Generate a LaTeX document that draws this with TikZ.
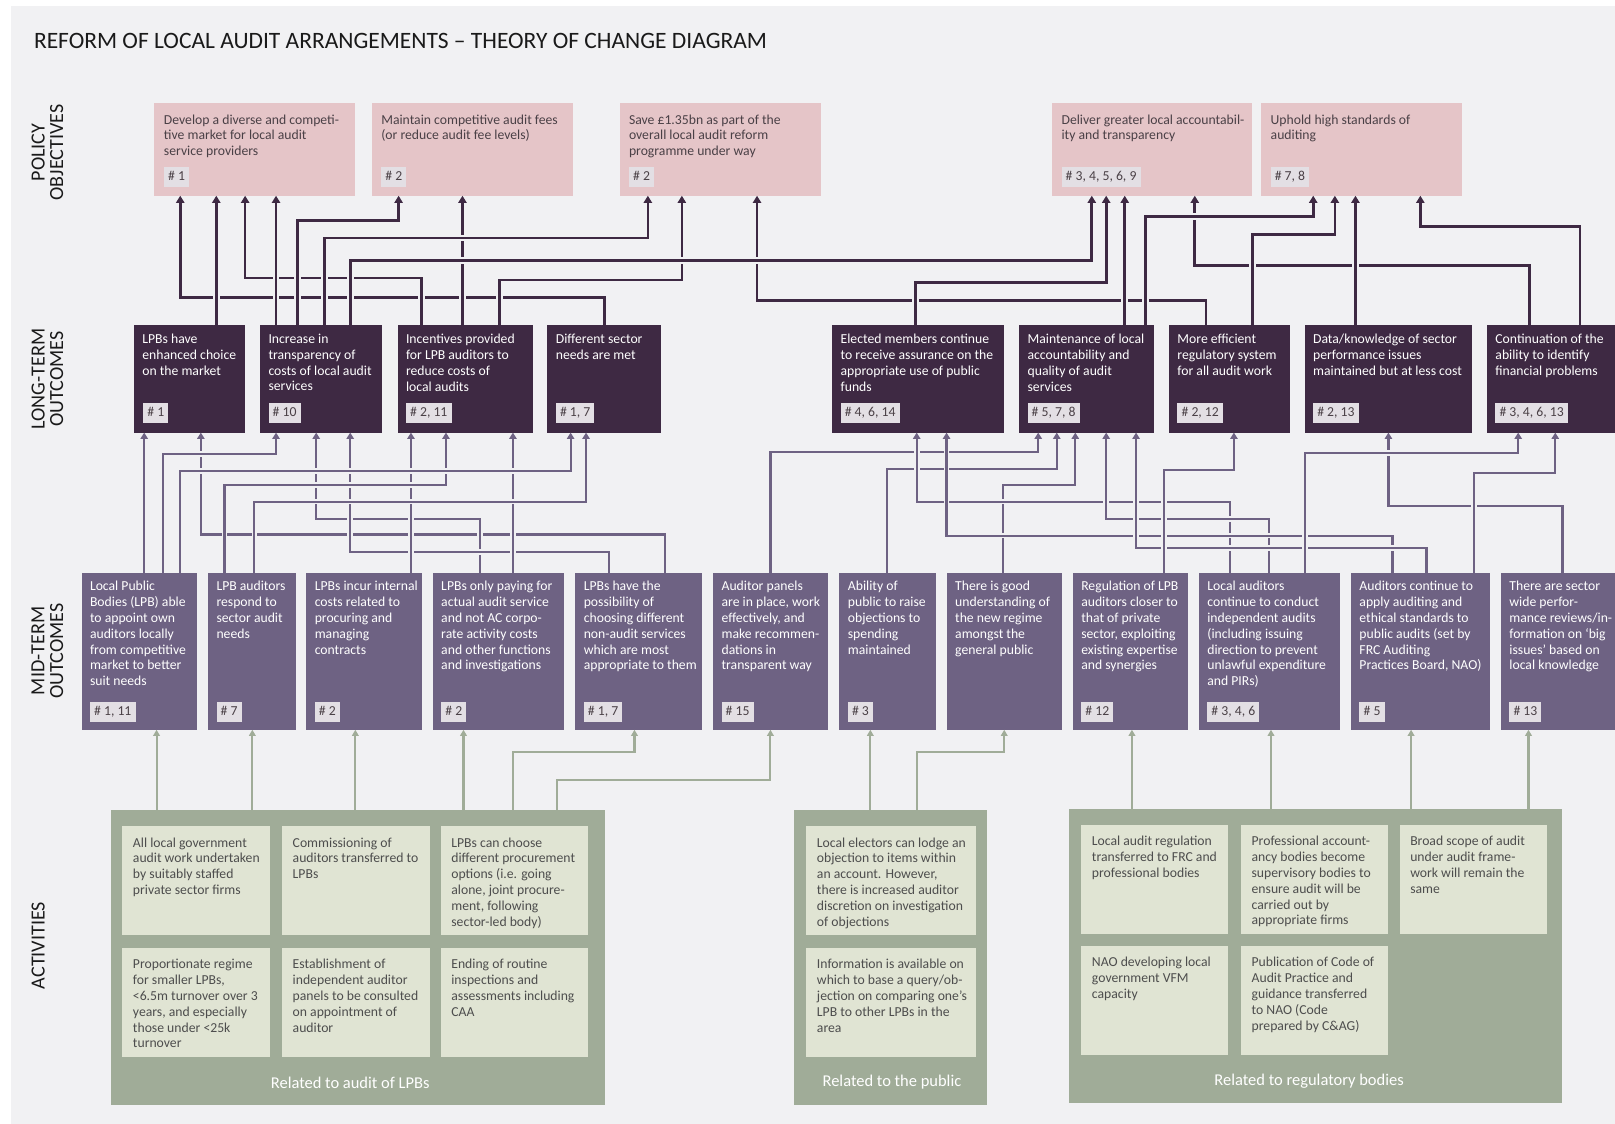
\documentclass[tikz,border=0pt]{standalone}
\usepackage{fontspec}
\setmainfont{Carlito}
\usetikzlibrary{arrows.meta,calc}
\definecolor{bgc}{HTML}{F1F1F3}
\definecolor{pinkc}{HTML}{E5C5C8}
\definecolor{dkc}{HTML}{3E2943}
\definecolor{mdc}{HTML}{6E6283}
\definecolor{grc}{HTML}{A0AC98}
\definecolor{actc}{HTML}{E0E4D3}
\definecolor{tagc}{HTML}{E3DFE4}
\definecolor{txtc}{HTML}{4A4046}
\definecolor{acttxtc}{HTML}{4D4D4D}
\definecolor{titlec}{HTML}{1A1A1A}
\newcommand\bx[7]{%
  \node[#1, anchor=north west, minimum width={(#5-#3)*1pt}, minimum height={(#6-#4)*1pt}] (#2) at (#3,#4) {};
  \node[#1txt, anchor=north west] (#2t) at (#2.north west) {#7};}
\newcommand\tg[4]{%
  \node[tagst, anchor=south west, xshift=#3pt, yshift=#4pt] (#1g) at (#1.south west) {\# #2};}
\begin{document}
\begin{tikzpicture}[x=1pt,y=-1pt,
  every node/.style={font=\fontsize{13.3}{15.4}\selectfont},
  pol/.style={fill=pinkc, draw=none, inner sep=0pt, outer sep=0pt},
  poltxt/.style={text=txtc, align=left, inner sep=0pt, xshift=9pt, yshift=-11pt},
  lt/.style={fill=dkc, inner sep=0pt, outer sep=0pt},
  lttxt/.style={text=white, align=left, inner sep=0pt, xshift=8pt, yshift=-8pt},
  mt/.style={fill=mdc, inner sep=0pt, outer sep=0pt},
  mttxt/.style={text=white, align=left, inner sep=0pt, xshift=8pt, yshift=-8pt},
  act/.style={fill=actc, inner sep=0pt, outer sep=0pt},
  acttxt/.style={text=acttxtc, align=left, inner sep=0pt, xshift=10pt, yshift=-11pt},
  grp/.style={fill=grc, inner sep=0pt, outer sep=0pt},
  grplab/.style={text=white, font=\fontsize{16}{18}\selectfont},
  tagst/.style={fill=tagc, text=txtc, inner xsep=4pt, inner ysep=4.5pt, text height=9pt, text depth=2pt},
  rowlab/.style={rotate=90, align=center, text=titlec, font=\fontsize{19.5}{18}\selectfont},
  dk/.style={draw=dkc, line width=2.6pt, -{Triangle[width=8pt,length=7pt]}, preaction={draw=bgc, line width=6.5pt, -}},
  md/.style={draw=mdc, line width=2.1pt, -{Triangle[width=7pt,length=6pt]}, preaction={draw=bgc, line width=5.5pt, -}},
  gr/.style={draw=grc, line width=2pt, -{Triangle[width=6.5pt,length=6pt]}}
]
\useasboundingbox (0,0) rectangle (1568,1091);
\fill[white] (0,0) rectangle (1568,1091);
\fill[bgc] (10.7,5.8) rectangle (1568,1091);

\node[anchor=base west, text=titlec, font=\fontsize{22.8}{26}\selectfont] (title) at (29.5,47) {REFORM OF LOCAL AUDIT ARRANGEMENTS – THEORY OF CHANGE DIAGRAM};
\node[rowlab] (r1) at (46,148) {POLICY\\OBJECTIVES};
\node[rowlab] (r2) at (46,368) {LONG-TERM\\OUTCOMES};
\node[rowlab] (r3) at (46,632) {MID-TERM\\OUTCOMES};
\node[rowlab] (r4) at (37,918) {ACTIVITIES};

% policy objectives
\bx{pol}{P1}{150}{100}{345}{190}{Develop a diverse and competi-\\tive market for local audit\\service providers}
\tg{P1}{1}{9}{8}
\bx{pol}{P2}{361}{100}{556}{190}{Maintain competitive audit fees\\(or reduce audit fee levels)}
\tg{P2}{2}{9}{8}
\bx{pol}{P3}{601.5}{100}{797}{190}{Save £1.35bn as part of the\\overall local audit reform\\programme under way}
\tg{P3}{2}{9}{8}
\bx{pol}{P4}{1021.5}{100}{1216}{190}{Deliver greater local accountabil-\\ity and transparency}
\tg{P4}{3, 4, 5, 6, 9}{9}{8}
\bx{pol}{P5}{1224.5}{100}{1419.5}{190}{Uphold high standards of\\auditing}
\tg{P5}{7, 8}{9}{8}

% long-term outcomes
\bx{lt}{L1}{130}{316}{238}{420}{LPBs have\\enhanced choice\\on the market}
\tg{L1}{1}{9}{9}
\bx{lt}{L2}{252.5}{316}{371}{420}{Increase in\\transparency of\\costs of local audit\\services}
\tg{L2}{10}{8}{9}
\bx{lt}{L3}{386}{316}{517}{420}{Incentives provided\\for LPB auditors to\\reduce costs of\\local audits}
\tg{L3}{2, 11}{8}{9}
\bx{lt}{L4}{531.5}{316}{641.7}{420}{Different sector\\needs are met}
\tg{L4}{1, 7}{8}{9}
\bx{lt}{L5}{808}{316}{974.4}{420}{Elected members continue\\to receive assurance on the\\appropriate use of public\\funds}
\tg{L5}{4, 6, 14}{8}{9}
\bx{lt}{L6}{989.5}{316}{1120.4}{420}{Maintenance of local\\accountability and\\quality of audit\\services}
\tg{L6}{5, 7, 8}{8}{9}
\bx{lt}{L7}{1135}{316}{1252}{420}{More efficient\\regulatory system\\for all audit work}
\tg{L7}{2, 12}{8}{9}
\bx{lt}{L8}{1266.7}{316}{1429.4}{420}{Data/knowledge of sector\\performance issues\\maintained but at less cost}
\tg{L8}{2, 13}{8}{9}
\bx{lt}{L9}{1443.7}{316}{1568}{420}{Continuation of the\\ability to identify\\financial problems}
\tg{L9}{3, 4, 6, 13}{8}{9}

% mid-term outcomes
\bx{mt}{M1}{79.2}{556}{190.8}{708.5}{Local Public\\Bodies (LPB) able\\to appoint own\\auditors locally\\from competitive\\market to better\\suit needs}
\tg{M1}{1, 11}{8}{7}
\bx{mt}{M2}{202}{556}{287}{708.5}{LPB auditors\\respond to\\sector audit\\needs}
\tg{M2}{7}{8}{7}
\bx{mt}{M3}{297.4}{556}{409.3}{708.5}{LPBs incur internal\\costs related to\\procuring and\\managing\\contracts}
\tg{M3}{2}{8}{7}
\bx{mt}{M4}{420.2}{556}{547.8}{708.5}{LPBs only paying for\\actual audit service\\and not AC corpo-\\rate activity costs\\and other functions\\and investigations}
\tg{M4}{2}{8}{7}
\bx{mt}{M5}{558.6}{556}{681.9}{708.5}{LPBs have the\\possibility of\\choosing different\\non-audit services\\which are most\\appropriate to them}
\tg{M5}{1, 7}{8}{7}
\bx{mt}{M6}{692.4}{556}{804}{708.5}{Auditor panels\\are in place, work\\effectively, and\\make recommen-\\dations in\\transparent way}
\tg{M6}{15}{8}{7}
\bx{mt}{M7}{815}{556}{908.5}{708.5}{Ability of\\public to raise\\objections to\\spending\\maintained}
\tg{M7}{3}{8}{7}
\bx{mt}{M8}{919.2}{556}{1031}{708.5}{There is good\\understanding of\\the new regime\\amongst the\\general public}
\bx{mt}{M9}{1041.6}{556}{1153}{708.5}{Regulation of LPB\\auditors closer to\\that of private\\sector, exploiting\\existing expertise\\and synergies}
\tg{M9}{12}{8}{7}
\bx{mt}{M10}{1164}{556}{1301}{708.5}{Local auditors\\continue to conduct\\independent audits\\(including issuing\\direction to prevent\\unlawful expenditure\\and PIRs)}
\tg{M10}{3, 4, 6}{8}{7}
\bx{mt}{M11}{1311.7}{556}{1447}{708.5}{Auditors continue to\\apply auditing and\\ethical standards to\\public audits (set by\\FRC Auditing\\Practices Board, NAO)}
\tg{M11}{5}{8}{7}
\bx{mt}{M12}{1457.3}{556}{1568}{708.5}{There are sector\\wide perfor-\\mance reviews/in-\\formation on ‘big\\issues’ based on\\local knowledge}
\tg{M12}{13}{8}{7}

% activity groups
\node[grp, anchor=north west, minimum width=479.8pt, minimum height=286.6pt] (G1) at (107.8,786.4) {};
\node[grplab] (G1l) at (340,1051) {Related to audit of LPBs};
\node[grp, anchor=north west, minimum width=187.9pt, minimum height=286.6pt] (G2) at (770.4,786.4) {};
\node[grplab] (G2l) at (866,1051) {Related to the public};
\node[grp, anchor=north west, minimum width=479.5pt, minimum height=285.2pt] (G3) at (1037.5,785.8) {};
\node[grplab] (G3l) at (1271,1049.6) {Related to regulatory bodies};

\bx{act}{A1}{118.9}{802}{261.8}{908}{All local government\\audit work undertaken\\by suitably staffed\\private sector firms}
\bx{act}{A2}{274}{802}{417}{908}{Commissioning of\\auditors transferred to\\LPBs}
\bx{act}{A3}{428}{802}{570.8}{908}{LPBs can choose\\different procurement\\options (i.e. going\\alone, joint procure-\\ment, following\\sector-led body)}
\bx{act}{A4}{118.9}{920}{261.8}{1026}{Proportionate regime\\for smaller LPBs,\\<6.5m turnover over 3\\years, and especially\\those under <25k\\turnover}
\bx{act}{A5}{274}{920}{417}{1026}{Establishment of\\independent auditor\\panels to be consulted\\on appointment of\\auditor}
\bx{act}{A6}{428}{920}{570.8}{1026}{Ending of routine\\inspections and\\assessments including\\CAA}
\bx{act}{B1}{783}{802}{947.6}{908}{Local electors can lodge an\\objection to items within\\an account. However,\\there is increased auditor\\discretion on investigation\\of objections}
\bx{act}{B2}{783}{920}{947.6}{1026}{Information is available on\\which to base a query/ob-\\jection on comparing one’s\\LPB to other LPBs in the\\area}
\bx{act}{C1}{1050}{800.6}{1192.7}{906.8}{Local audit regulation\\transferred to FRC and\\professional bodies}
\bx{act}{C2}{1205}{800.6}{1348}{906.8}{Professional account-\\ancy bodies become\\supervisory bodies to\\ensure audit will be\\carried out by\\appropriate firms}
\bx{act}{C3}{1359}{800.6}{1502}{906.8}{Broad scope of audit\\under audit frame-\\work will remain the\\same}
\bx{act}{C4}{1050}{918.4}{1192.7}{1024.6}{NAO developing local\\government VFM\\capacity}
\bx{act}{C5}{1205}{918.4}{1348}{1024.6}{Publication of Code of\\Audit Practice and\\guidance transferred\\to NAO (Code\\prepared by C\&AG)}

% long-term -> policy
\draw[dk] (587,0 |- L4.north) |- (175,289) -- (175,0 |- P1.south);
\draw[dk] (210,0 |- L1.north) -- (210,0 |- P1.south);
\draw[dk] (409,0 |- L3.north) |- (238,270) -- (238,0 |- P1.south);
\draw[dk] (268,0 |- L2.north) -- (268,0 |- P1.south);
\draw[dk] (289,0 |- L2.north) |- (387,214) -- (387,0 |- P2.south);
\draw[dk] (449,0 |- L3.north) -- (449,0 |- P2.south);
\draw[dk] (315,0 |- L2.north) |- (629,231) -- (629,0 |- P3.south);
\draw[dk] (485,0 |- L3.north) |- (662,272) -- (662,0 |- P3.south);
\draw[dk] (1171,0 |- L7.north) |- (735,292) -- (735,0 |- P3.south);
\draw[dk] (340,0 |- L2.north) |- (1060,253) -- (1060,0 |- P4.south);
\draw[dk] (889,0 |- L5.north) |- (1074,274) -- (1074,0 |- P4.south);
\draw[dk] (1092,0 |- L6.north) -- (1092,0 |- P4.south);
\draw[dk] (1485,0 |- L9.north) |- (1160,258) -- (1160,0 |- P4.south);
\draw[dk] (1112,0 |- L6.north) |- (1275,210) -- (1275,0 |- P5.south);
\draw[dk] (1216,0 |- L7.north) |- (1296,228) -- (1296,0 |- P5.south);
\draw[dk] (1316,0 |- L8.north) -- (1316,0 |- P5.south);
\draw[dk] (1534,0 |- L9.north) |- (1379,220) -- (1379,0 |- P5.south);

% mid-term -> long-term
\draw[md] (140,0 |- M1.north) -- (140,0 |- L1.south);
\draw[md] (646,0 |- M5.north) |- (195,519) -- (195,0 |- L1.south);
\draw[md] (158,0 |- M1.north) |- (268,441) -- (268,0 |- L2.south);
\draw[md] (466,0 |- M4.north) |- (307,504) -- (307,0 |- L2.south);
\draw[md] (591,0 |- M5.north) |- (340,536) -- (340,0 |- L2.south);
\draw[md] (399,0 |- M3.north) -- (399,0 |- L3.south);
\draw[md] (218,0 |- M2.north) |- (433,471) -- (433,0 |- L3.south);
\draw[md] (498,0 |- M4.north) -- (498,0 |- L3.south);
\draw[md] (175,0 |- M1.north) |- (554,457) -- (554,0 |- L4.south);
\draw[md] (247,0 |- M2.north) |- (569,487) -- (569,0 |- L4.south);
\draw[md] (748,0 |- M6.north) |- (1008,439) -- (1008,0 |- L6.south);
\draw[md] (861,0 |- M7.north) |- (1026,455) -- (1026,0 |- L6.south);
\draw[md] (974,0 |- M8.north) |- (1044,471) -- (1044,0 |- L6.south);
\draw[md] (1194,0 |- M10.north) |- (890,487) -- (890,0 |- L5.south);
\draw[md] (1232,0 |- M10.north) |- (1074,504) -- (1074,0 |- L6.south);
\draw[md] (1352,0 |- M11.north) |- (919,520) -- (919,0 |- L5.south);
\draw[md] (1385,0 |- M11.north) |- (1103,532) -- (1103,0 |- L6.south);
\draw[md] (1130,0 |- M9.north) |- (1198,456) -- (1198,0 |- L7.south);
\draw[md] (1517,0 |- M12.north) |- (1348,491) -- (1348,0 |- L8.south);
\draw[md] (1267,0 |- M10.north) |- (1474,440) -- (1474,0 |- L9.south);
\draw[md] (1431,0 |- M11.north) |- (1510,459) -- (1510,0 |- L9.south);

% activities -> mid-term
\draw[gr] (152,0 |- G1.north) -- (152,0 |- M1.south);
\draw[gr] (245,0 |- G1.north) -- (245,0 |- M2.south);
\draw[gr] (345,0 |- G1.north) -- (345,0 |- M3.south);
\draw[gr] (450,0 |- G1.north) -- (450,0 |- M4.south);
\draw[gr] (498,0 |- G1.north) |- (616,730) -- (616,0 |- M5.south);
\draw[gr] (541,0 |- G1.north) |- (748,757) -- (748,0 |- M6.south);
\draw[gr] (845,0 |- G2.north) -- (845,0 |- M7.south);
\draw[gr] (890,0 |- G2.north) |- (975,730) -- (975,0 |- M8.south);
\draw[gr] (1099,0 |- G3.north) -- (1099,0 |- M9.south);
\draw[gr] (1234,0 |- G3.north) -- (1234,0 |- M10.south);
\draw[gr] (1370,0 |- G3.north) -- (1370,0 |- M11.south);
\draw[gr] (1484,0 |- G3.north) -- (1484,0 |- M12.south);
\end{tikzpicture}
\end{document}
